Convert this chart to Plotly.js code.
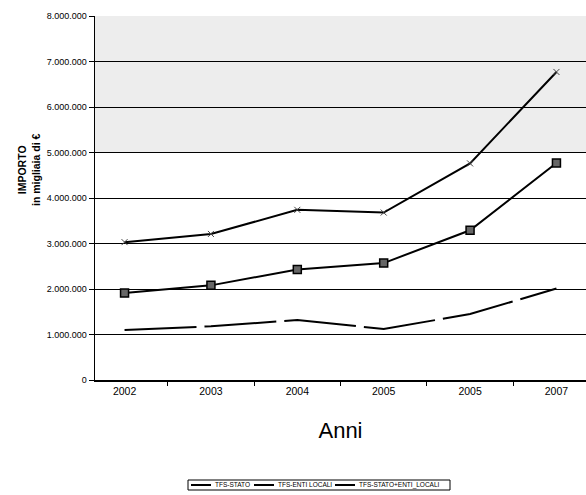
<!DOCTYPE html>
<html>
<head>
<meta charset="utf-8">
<script src="https://cdn.plot.ly/plotly-3.0.1.min.js"></script>
<style>
  html, body { margin: 0; padding: 0; background: #fff; }
  #chart { width: 586px; height: 495px; }
</style>
</head>
<body>
<div id="chart"></div>
<script>
// Years on the category axis (the fifth label is printed as "2005")
const anni = ['2002', '2003', '2004', '2005', '2005', '2007'];
const anniKey = ['2002', '2003', '2004', '2005', '2005 ', '2007'];

// Amounts in thousands of euro
const tfsStato = [1910000, 2080000, 2430000, 2570000, 3290000, 4770000];
const tfsEntiLocali = [1100000, 1180000, 1320000, 1120000, 1450000, 2010000];
const tfsStatoEntiLocali = [3030000, 3210000, 3740000, 3680000, 4760000, 6770000];

// Series names shown in the legend box
const nomiSerie = ['TFS-STATO', 'TFS-ENTI LOCALI', 'TFS-STATO+ENTI_LOCALI'];

// Y tick values (0 .. 8.000.000 every million)
const yTicks = [0, 1000000, 2000000, 3000000, 4000000, 5000000, 6000000, 7000000, 8000000];
const yTickText = ['0', '1.000.000', '2.000.000', '3.000.000', '4.000.000', '5.000.000', '6.000.000', '7.000.000', '8.000.000'];

const W = 586, H = 495;
const M = { l: 95, r: 0, t: 16, b: 115 };
const plotW = W - M.l - M.r, plotH = H - M.t - M.b;
// pixel -> paper coordinates (for the hand-laid legend box)
const px = v => (v - M.l) / plotW;
const py = v => (H - M.b - v) / plotH;

const traces = [
  {
    name: nomiSerie[0],
    x: anniKey, y: tfsStato,
    type: 'scatter', mode: 'lines+markers', showlegend: false,
    line: { color: '#000', width: 2 },
    marker: { symbol: 'square', size: 8, color: '#666', line: { color: '#000', width: 1.5 } }
  },
  {
    name: nomiSerie[1],
    x: anniKey, y: tfsEntiLocali,
    type: 'scatter', mode: 'lines', showlegend: false,
    line: { color: '#000', width: 2, dash: '72px,8px' }
  },
  {
    name: nomiSerie[2],
    x: anniKey, y: tfsStatoEntiLocali,
    type: 'scatter', mode: 'lines+markers', showlegend: false,
    line: { color: '#000', width: 2 },
    marker: { symbol: 'x-thin', size: 6, color: '#444', line: { color: '#444', width: 1 } }
  }
];

// Compact legend: a framed strip with a line sample before each name
const legTop = 480, legBot = 490, legMid = 485;
const legItems = [
  { x0: 191, x1: 211, tx: 213 },
  { x0: 254, x1: 274, tx: 276 },
  { x0: 335, x1: 355, tx: 357 }
];
const legShapes = [
  {
    type: 'rect', xref: 'paper', yref: 'paper',
    x0: px(188), x1: px(450), y0: py(legBot), y1: py(legTop),
    line: { color: '#000', width: 1 }, fillcolor: '#fff'
  }
].concat(legItems.map(it => ({
  type: 'line', xref: 'paper', yref: 'paper',
  x0: px(it.x0), x1: px(it.x1), y0: py(legMid), y1: py(legMid),
  line: { color: '#000', width: 2 }
})));
const legAnn = legItems.map((it, i) => ({
  xref: 'paper', yref: 'paper', x: px(it.tx), y: py(legMid),
  xanchor: 'left', yanchor: 'middle', showarrow: false,
  text: nomiSerie[i], font: { size: 6.5, color: '#000' }
}));

const layout = {
  width: W, height: H,
  margin: M,
  paper_bgcolor: '#fff', plot_bgcolor: 'rgba(0,0,0,0)',
  font: { family: 'Liberation Sans, Arial, sans-serif', color: '#000' },
  showlegend: false,
  xaxis: {
    type: 'category',
    tickvals: anniKey, ticktext: anni,
    tickfont: { size: 10.5 },
    ticks: 'outside', tickson: 'boundaries', ticklen: 4, tickcolor: '#000',
    ticklabelstandoff: 1,
    showline: true, linecolor: '#000', linewidth: 1.5,
    showgrid: false, zeroline: false,
    title: { text: 'Anni', font: { size: 22 }, standoff: 26 }
  },
  yaxis: {
    range: [0, 8000000],
    tickvals: yTicks, ticktext: yTickText,
    tickfont: { size: 9 },
    ticks: 'outside', ticklen: 5, tickcolor: '#000',
    showline: true, linecolor: '#000', linewidth: 1.5,
    showgrid: true, gridcolor: '#000', gridwidth: 1,
    zeroline: false
  },
  shapes: [
    {
      type: 'rect', layer: 'below',
      xref: 'paper', x0: 0, x1: 1,
      yref: 'y', y0: 5000000, y1: 8000000,
      fillcolor: 'rgba(0,0,0,0.07)', line: { width: 0 }
    }
  ].concat(legShapes),
  annotations: [
    {
      xref: 'paper', yref: 'paper',
      x: px(29), y: py(170), xanchor: 'center', yanchor: 'middle',
      text: '<b>IMPORTO</b><br><b>in migliaia di €</b>',
      textangle: -90, showarrow: false,
      font: { size: 10.5, color: '#000' }
    }
  ].concat(legAnn)
};

Plotly.newPlot('chart', traces, layout, { displayModeBar: false, staticPlot: true });
</script>
</body>
</html>
